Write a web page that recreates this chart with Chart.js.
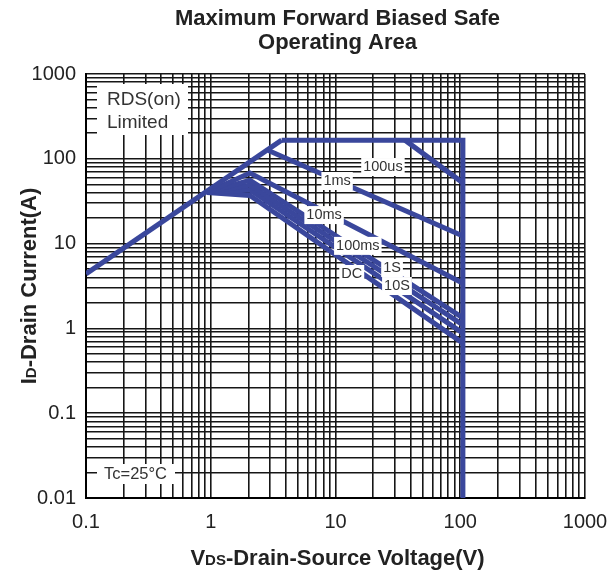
<!DOCTYPE html>
<html>
<head>
<meta charset="utf-8">
<script src="https://cdn.jsdelivr.net/npm/chart.js@4.4.0/dist/chart.umd.min.js"></script>
<style>html,body{margin:0;padding:0;background:#fff}</style>
</head>
<body>
<canvas id="soa" width="609" height="575"></canvas>
<script>
// axis decades (labelled ticks)
const xDecades = [0.1, 1, 10, 100, 1000];
const yDecades = [0.01, 0.1, 1, 10, 100, 1000];

// SOA boundary lines, VDS (V) vs ID (A)
const rdsV = [0.1, 3.7];           const rdsI = [4.4, 166];
const limV = [3.7, 105, 105];      const limI = [166, 166, 0.01];
const us100V = [36, 105];          const us100I = [166, 52];
const ms1V = [2.9, 105];           const ms1I = [125, 12.3];
const ms10V = [0.93, 2.06, 105];   const ms10I = [40, 68, 3.4];
const ms100V = [0.93, 2.06, 105];  const ms100I = [40, 56, 1.33];
const s1V = [0.93, 2.06, 105];     const s1I = [40, 49, 1.1];
const s10V = [0.93, 2.06, 105];    const s10I = [40, 43, 0.88];
const dcV = [0.93, 2.06, 105];     const dcI = [40, 37, 0.67];

// labels sitting on the curves
const curveLabels = ['100us', '1ms', '10ms', '100ms', '1S', 'DC', '10S'];
const curveLabelV = [24, 10.3, 8.1, 15.1, 28.4, 13.5, 31.1];
const curveLabelI = [80, 54.7, 21.7, 9.4, 5.15, 4.38, 3.16];

const BLUE = '#3a479c';
const FONT = '"Liberation Sans", Arial, Helvetica, sans-serif';

const pts = (xs, ys) => xs.map((x, i) => ({ x, y: ys[i] }));
const line = (xs, ys) => ({
  data: pts(xs, ys), borderColor: BLUE, borderWidth: 5, pointRadius: 0,
  tension: 0, fill: false, borderJoinStyle: 'miter', borderCapStyle: 'butt'
});

const logTicks = decades => {
  const out = [];
  decades.forEach((d, i) => {
    if (i === decades.length - 1) { out.push({ value: d, major: true }); return; }
    for (let k = 1; k <= 9; k++) out.push({ value: +(d * k).toPrecision(6), major: k === 1 });
  });
  return out;
};

// draw text made of pieces with different fonts (for subscripts)
const drawParts = (ctx, parts, cx, cy) => {
  let total = 0;
  parts.forEach(p => { ctx.font = p[1] + FONT; total += ctx.measureText(p[0]).width; });
  let sx = cx - total / 2;
  ctx.textAlign = 'left';
  ctx.textBaseline = 'alphabetic';
  parts.forEach(p => { ctx.font = p[1] + FONT; ctx.fillText(p[0], sx, cy); sx += ctx.measureText(p[0]).width; });
};

const overlay = {
  id: 'overlay',
  afterDatasetsDraw(chart) {
    const { ctx, scales: { x, y } } = chart;
    ctx.save();
    ctx.font = '14.5px ' + FONT;
    ctx.textBaseline = 'middle';
    ctx.textAlign = 'center';
    curveLabels.forEach((t, i) => {
      const px = x.getPixelForValue(curveLabelV[i]);
      const py = y.getPixelForValue(curveLabelI[i]);
      const w = ctx.measureText(t).width + 4;
      ctx.fillStyle = '#fff';
      ctx.fillRect(px - w / 2, py - 9, w, 18);
      ctx.fillStyle = '#333';
      ctx.fillText(t, px, py);
    });
    ctx.restore();
  },
  afterDraw(chart) {
    const { ctx, chartArea: a } = chart;
    ctx.save();
    // RDS(on) Limited box
    ctx.fillStyle = '#fff';
    ctx.fillRect(a.left + 11, a.top + 10, 91, 51);
    ctx.fillStyle = '#333';
    ctx.font = '19px ' + FONT;
    ctx.textAlign = 'left';
    ctx.textBaseline = 'middle';
    ctx.fillText('RDS(on)', a.left + 21, a.top + 26);
    ctx.fillText('Limited', a.left + 21, a.top + 49);
    // Tc box
    ctx.fillStyle = '#fff';
    ctx.fillRect(a.left + 11, a.bottom - 34, 78, 20);
    ctx.fillStyle = '#333';
    ctx.font = '16.5px ' + FONT;
    ctx.fillText('Tc=25°C', a.left + 18, a.bottom - 24);

    // title
    const cx = (a.left + a.right) / 2 + 2;
    ctx.fillStyle = '#222';
    ctx.textAlign = 'center';
    ctx.font = 'bold 22px ' + FONT;
    ctx.fillText('Maximum Forward Biased Safe', cx, 19);
    ctx.fillText('Operating Area', cx, 43);

    // x axis title
    drawParts(ctx, [['V', 'bold 22px '], ['DS', 'bold 15px '], ['-Drain-Source Voltage(V)', 'bold 22px ']], cx, 565);

    // y axis title
    ctx.translate(36, (a.top + a.bottom) / 2);
    ctx.rotate(-Math.PI / 2);
    drawParts(ctx, [['I', 'bold 22px '], ['D', 'bold 15px '], ['-Drain Current(A)', 'bold 22px ']], 0, 0);
    ctx.restore();
  }
};

const gridStyle = { color: '#161616', lineWidth: 1.6, drawTicks: false };

new Chart(document.getElementById('soa'), {
  type: 'line',
  data: {
    datasets: [
      line(rdsV, rdsI), line(limV, limI), line(us100V, us100I), line(ms1V, ms1I),
      line(ms10V, ms10I), line(ms100V, ms100I), line(s1V, s1I), line(s10V, s10I), line(dcV, dcI)
    ]
  },
  options: {
    responsive: false,
    animation: false,
    layout: { padding: { top: 74, right: 24, bottom: 0, left: 0 } },
    plugins: { legend: { display: false }, tooltip: { enabled: false } },
    scales: {
      x: {
        type: 'logarithmic', min: 0.1, max: 1000,
        afterBuildTicks: s => { s.ticks = logTicks(xDecades); },
        afterFit: s => { s.height = 77; s.paddingLeft = 0; s.paddingRight = 0; },
        grid: gridStyle,
        border: { color: '#000', width: 2 },
        ticks: {
          autoSkip: false, maxRotation: 0, padding: 12, color: '#222',
          font: { family: FONT, size: 20 },
          callback: v => xDecades.includes(v) ? String(v) : ''
        }
      },
      y: {
        type: 'logarithmic', min: 0.01, max: 1000,
        afterBuildTicks: s => { s.ticks = logTicks(yDecades); },
        afterFit: s => { s.width = 86; s.paddingTop = 0; s.paddingBottom = 0; },
        grid: gridStyle,
        border: { color: '#000', width: 2 },
        ticks: {
          autoSkip: false, padding: 10, color: '#222',
          font: { family: FONT, size: 20 },
          callback: v => yDecades.includes(v) ? String(v) : ''
        }
      }
    }
  },
  plugins: [overlay]
});
</script>
</body>
</html>
